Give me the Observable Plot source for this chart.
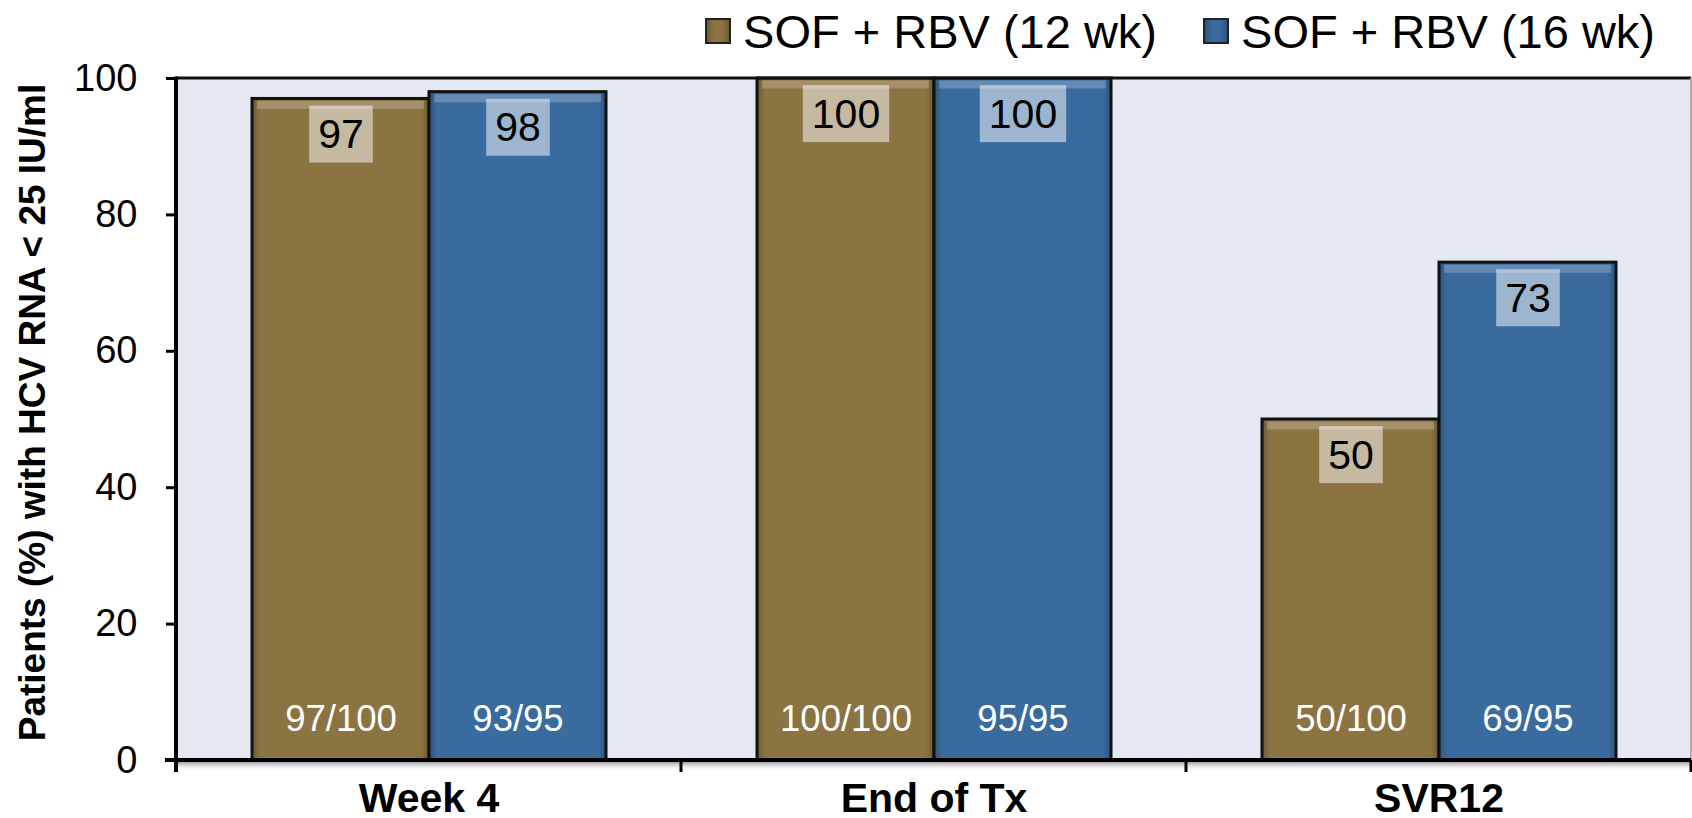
<!DOCTYPE html>
<html><head><meta charset="utf-8">
<script src="https://cdn.jsdelivr.net/npm/d3@7"></script>
<script src="https://cdn.jsdelivr.net/npm/@observablehq/plot@0.6"></script>
<style>
body{margin:0;background:#fff;font-family:"Liberation Sans",Arial,sans-serif;}
#legend{height:62px;display:flex;justify-content:flex-end;align-items:center;padding-right:37px;box-sizing:border-box;}
.item{display:flex;align-items:center;margin-left:46px;font-size:47px;color:#000;line-height:1;}
.sw{width:22px;height:22px;border:2px solid #222;margin-right:12px;}
#chart svg{display:block;overflow:visible;}
</style></head><body>
<div id="legend"></div>
<div id="chart"></div>
<script>
const categories = ["Week 4", "End of Tx", "SVR12"];
const seriesNames = ["SOF + RBV (12 wk)", "SOF + RBV (16 wk)"];
const values12 = [97, 100, 50];
const values16 = [98, 100, 73];
const counts12 = ["97/100", "100/100", "50/100"];
const counts16 = ["93/95", "95/95", "69/95"];
const yTicks = [0, 20, 40, 60, 80, 100];
const yTitle = "Patients (%) with HCV RNA < 25 IU/ml";
const colors = ["#8B7342", "#3A6B9F"];

const rows = [];
categories.forEach((c, i) => {
  rows.push({category: c, series: seriesNames[0], value: values12[i], count: counts12[i]});
  rows.push({category: c, series: seriesNames[1], value: values16[i], count: counts16[i]});
});

// legend
const leg = d3.select("#legend");
seriesNames.forEach((s, i) => {
  const it = leg.append("div").attr("class", "item");
  const c = d3.color(colors[i]);
  it.append("div").attr("class", "sw")
    .style("background", `linear-gradient(90deg, ${c.darker(0.7)} 0%, ${c} 30%, ${c} 70%, ${c.darker(0.7)} 100%)`);
  it.append("span").text(s);
});

const chart = Plot.plot({
  width: 1692, height: 756,
  marginTop: 16, marginBottom: 58, marginLeft: 176, marginRight: 1,
  style: {fontFamily: "Liberation Sans, Arial, sans-serif", background: "transparent", overflow: "visible"},
  fx: {domain: categories, padding: 0, label: null, axis: null},
  x: {domain: seriesNames, paddingInner: 0, paddingOuter: 0.425, axis: null},
  y: {domain: [0, 100], axis: null},
  color: {domain: seriesNames, range: ["url(#g0)", "url(#g1)"]},
  marks: [
    Plot.frame({fill: "#E4E8F1", stroke: null}),
    Plot.barY(rows, {fx: "category", x: "series", y: "value", fill: "series", stroke: "#111", strokeWidth: 3}),
    Plot.tickY(rows, {fx: "category", x: "series", y: "value", dy: 6, stroke: "white", strokeOpacity: 0.22, strokeWidth: 8, insetLeft: 5, insetRight: 5}),
    Plot.text(rows, {fx: "category", x: "series", y: "value", text: d => String(d.value), dy: 36, fontSize: 41, fill: "black", lineAnchor: "middle", ariaDescription: "value-labels"}),
    Plot.text(rows, {fx: "category", x: "series", frameAnchor: "bottom", text: "count", dy: -41, fontSize: 36.5, fill: "white", lineAnchor: "middle"}),
    Plot.axisY(yTicks, {tickSize: 10, tickPadding: 29, fontSize: 38, strokeWidth: 3, label: null}),
    Plot.axisFx({anchor: "bottom", tickSize: 0, tickPadding: 22, fontSize: 41, fontWeight: "bold", label: null}),
    Plot.text([yTitle], {fx: () => categories[0], frameAnchor: "left", text: d => d, rotate: -90, dx: -158, dy: -7, fontSize: 37, fontWeight: "bold", textAnchor: "middle", lineAnchor: "top", fill: "black"})
  ]
});
document.getElementById("chart").append(chart);

const svg = d3.select(chart);
const defs = svg.insert("defs", ":first-child");
colors.forEach((c, i) => {
  const g = defs.append("linearGradient").attr("id", "g" + i).attr("x1", 0).attr("x2", 1).attr("y1", 0).attr("y2", 0);
  const dark = d3.color(c).darker(0.7).formatHex();
  [[0, dark], [0.045, c], [0.955, c], [1, dark]].forEach(([o, col]) =>
    g.append("stop").attr("offset", o).attr("stop-color", col));
});
const sh = defs.append("linearGradient").attr("id", "shadow").attr("x1", 0).attr("x2", 0).attr("y1", 0).attr("y2", 1);
sh.append("stop").attr("offset", 0).attr("stop-color", "#888").attr("stop-opacity", 0.8);
sh.append("stop").attr("offset", 1).attr("stop-color", "#fff").attr("stop-opacity", 0);

// label boxes behind the value labels
const valueTexts = new Set(rows.map(d => String(d.value)));
const labelNodes = [];
svg.selectAll("text").each(function () {
  if (!valueTexts.has(this.textContent.trim())) return;
  let p = this.parentNode, isAxis = false;
  while (p && p !== chart) {
    const al = p.getAttribute && p.getAttribute("aria-label");
    if (al && /axis/.test(al)) { isAxis = true; break; }
    p = p.parentNode;
  }
  if (!isAxis) labelNodes.push(this);
});
labelNodes.forEach(node => {
  const bb = node.getBBox();
  const cy = bb.y + bb.height / 2;
  const r = document.createElementNS("http://www.w3.org/2000/svg", "rect");
  const tr = node.getAttribute("transform");
  if (tr) r.setAttribute("transform", tr);
  r.setAttribute("x", bb.x - 9);
  r.setAttribute("y", cy - 28.5);
  r.setAttribute("width", bb.width + 18);
  r.setAttribute("height", 57);
  r.setAttribute("fill", "white");
  r.setAttribute("fill-opacity", 0.5);
  node.parentNode.insertBefore(r, node);
});

// axis lines and category boundary ticks from the scales
const fxS = chart.scale("fx");
const yS = chart.scale("y");
const fxBand = d3.scaleBand(fxS.domain, fxS.range).padding(0);
const yLin = d3.scaleLinear(yS.domain, yS.range);
const x0 = fxS.range[0], x1 = fxS.range[1];
const yb = yLin(0), yt = yLin(100);
const ax = svg.append("g");
ax.append("rect").attr("x", x0).attr("y", yb + 2).attr("width", x1 - x0).attr("height", 9).attr("fill", "url(#shadow)");
ax.append("line").attr("x1", x0).attr("x2", x1).attr("y1", yt).attr("y2", yt).attr("stroke", "#111").attr("stroke-width", 3);
ax.append("line").attr("x1", x1).attr("x2", x1).attr("y1", yt).attr("y2", yb).attr("stroke", "#999").attr("stroke-width", 1.5);
ax.append("line").attr("x1", x0 - 11).attr("x2", x1).attr("y1", yb).attr("y2", yb).attr("stroke", "#000").attr("stroke-width", 4);
ax.append("line").attr("x1", x0).attr("x2", x0).attr("y1", yt - 1.5).attr("y2", yb + 12).attr("stroke", "#000").attr("stroke-width", 4);
const bounds = categories.map(c => fxBand(c) + fxBand.bandwidth());
ax.selectAll("line.bt").data(bounds).join("line").attr("class", "bt")
  .attr("x1", d => d).attr("x2", d => d).attr("y1", yb).attr("y2", yb + 12)
  .attr("stroke", "#000").attr("stroke-width", 3);
</script>
</body></html>
